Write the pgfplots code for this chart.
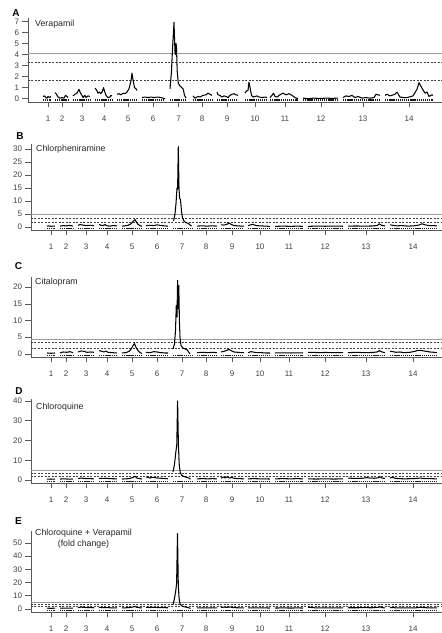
\documentclass[border=0pt]{standalone}
\usepackage{fontspec}
\setmainfont{Liberation Sans}
\usepackage{pgfplots}
\pgfplotsset{compat=1.18}
\begin{document}
\begin{tikzpicture}[x=1pt,y=1pt]
\path[use as bounding box] (0,0) rectangle (442,633);
\pgfplotsset{
  qtl/.style={
    scale only axis, clip=false, unbounded coords=jump,
    axis x line*=bottom, axis y line*=left,
    axis line style={-, draw=black!65, line width=0.5pt},
    every outer x axis line/.append style={-},
    every outer y axis line/.append style={-},
    tick style={draw=black!65, line width=0.5pt},
    tick align=outside, major tick length=5.5pt,
    tick label style={font=\fontsize{8}{9}\selectfont, text=black!75},
    /pgf/number format/assume math mode=true,
    xticklabel style={yshift=-4.5pt},
    xmin=31, xmax=442, width=411pt,
    xtick={51,66,86,107,132,157,182,206,232,260,289,325,366,413},
    xticklabels={1,2,3,4,5,6,7,8,9,10,11,12,13,14},
    anchor=south west,
  },
  curve/.style={black, line width=1.05pt, line join=round},
  mk/.style={black!90, line width=1.7pt, dash pattern=on 1.3pt off 0.8pt},
  thrA/.style={black!40, line width=0.6pt},
  thrB/.style={black!75, line width=0.5pt, dash pattern=on 2pt off 1.5pt},
}

% ---------------- A: Verapamil
\begin{axis}[qtl, at={(28pt,531pt)}, height=84pt, width=414pt, xmin=28, xmax=442,
  ymin=-0.3, ymax=7.3, ytick={0,1,2,3,4,5,6,7},
  xtick={48,62,82,104,128,153,178.5,202,227,255,285,321,363,409}]
  \addplot[thrA] coordinates {(28,4.1) (442,4.1)};
  \addplot[thrB] coordinates {(28,3.3) (442,3.3)};
  \addplot[thrB] coordinates {(28,1.65) (442,1.65)};
  \addplot[mk] coordinates {(43,-0.14)(51,-0.14)(51,nan) (55,-0.14)(68,-0.14)(68,nan)
    (73,-0.14)(90,-0.14)(90,nan) (95,-0.14)(112,-0.14)(112,nan) (117,-0.14)(137,-0.14)(137,nan)
    (142,-0.14)(165,-0.14)(165,nan) (170,-0.14)(186,-0.14)(186,nan) (193,-0.14)(212,-0.14)(212,nan)
    (217,-0.14)(238,-0.14)(238,nan) (245,-0.14)(267,-0.14)(267,nan) (270,-0.14)(298,-0.14)(298,nan)
    (303,-0.14)(338,-0.14)(338,nan) (343,-0.14)(380,-0.14)(380,nan) (385,-0.14)(433,-0.14)};
  \addplot[curve] coordinates {
    (43,0.2)(44.5,0.25)(46,0.1)(47,0.05)(48,0.2)(49.5,0.1)(51,0.2) (51,nan)
    (55,0.55)(56.5,0.4)(58,0.15)(60,0.05)(62,0.1)(64,0.05)(65.5,0.3)(67,0.2)(68,0.1) (68,nan)
    (73,0.25)(75,0.4)(77,0.5)(79,0.85)(80.5,0.5)(82,0.3)(83,0.1)(85,0.3)(86,0.1)(88,0.25)(90,0.2) (90,nan)
    (95,0.95)(96.5,0.8)(98,0.5)(99.5,0.6)(101,0.45)(102.5,0.7)(103.5,1.0)(105,0.55)(106,0.3)(108,0.1)(110,0.15)(111,0.3)(112,0.25) (112,nan)
    (117,0.4)(119,0.45)(121,0.35)(123,0.5)(125,0.45)(127,0.6)(129,0.9)(131,1.6)(132,2.3)(133,1.7)(134.5,1.0)(136,0.9)(137,0.75) (137,nan)
    (142,0.1)(145,0.15)(148,0.1)(151,0.15)(154,0.1)(157,0.15)(160,0.12)(163,0.05)(165,0.0) (165,nan)
    (170,0.9)(171.5,2.5)(172.5,4.5)(174,6.9)(175,4.2)(175.5,4.0)(176,5.0)(176.5,4.6)(177.2,2.5)(178.3,1.4)(180,1.15)(181.7,1.0)(183,0.9)(183.5,0.75)(184.5,0.3)(186,0.05) (186,nan)
    (193,0.25)(195,0.05)(198,0.2)(200,0.15)(203,0.3)(206,0.35)(208,0.5)(210,0.4)(212,0.3) (212,nan)
    (217,0.6)(218,0.35)(220,0.3)(222,0.15)(224,0.25)(226,0.2)(228,0.1)(230,0.3)(232,0.4)(234,0.45)(236,0.35)(238,0.3) (238,nan)
    (245,0.5)(246.5,0.7)(248,0.75)(249,1.5)(250.5,0.8)(251.5,0.3)(253,0.15)(255,0.2)(257,0.25)(259,0.15)(262,0.1)(265,0.15)(267,0.1) (267,nan)
    (270,0.1)(272,0.3)(273.5,0.5)(275,0.2)(277,0.15)(280,0.35)(283,0.5)(286,0.35)(289,0.45)(292,0.3)(295,0.1)(298,0.0) (298,nan)
    (303,0.05)(308,0.0)(314,0.05)(320,0.02)(326,0.05)(332,0.03)(338,0.05) (338,nan)
    (343,0.1)(346,0.25)(349,0.2)(352,0.3)(355,0.1)(358,0.2)(362,0.05)(366,0.1)(370,0.05)(374,0.1)(376,0.4)(378,0.35)(380,0.3) (380,nan)
    (385,0.3)(387,0.4)(390,0.25)(395,0.4)(397,0.6)(400,0.15)(404,0.1)(407,0.1)(413,0.25)(417,0.85)(419,1.45)(422,0.95)(425,0.5)(427,0.6)(429,0.2)(432,0.35)(433,0.3)};
\end{axis}

% ---------------- B: Chlorpheniramine
\begin{axis}[qtl, at={(31pt,403pt)}, height=86pt,
  ymin=-1.2, ymax=32, ytick={0,5,10,15,20,25,30}]
  \addplot[thrA] coordinates {(31,4.7) (442,4.7)};
  \addplot[thrB] coordinates {(31,3.3) (442,3.3)};
  \addplot[thrB] coordinates {(31,1.8) (442,1.8)};
  \addplot[mk] coordinates {(47,-0.6)(55,-0.6)(55,nan) (60,-0.6)(73,-0.6)(73,nan)
    (78,-0.6)(94,-0.6)(94,nan) (99,-0.6)(117,-0.6)(117,nan) (122,-0.6)(142,-0.6)(142,nan)
    (146,-0.6)(168,-0.6)(168,nan) (173,-0.6)(192,-0.6)(192,nan) (197,-0.6)(217,-0.6)(217,nan)
    (221,-0.6)(244,-0.6)(244,nan) (248,-0.6)(270,-0.6)(270,nan) (275,-0.6)(303,-0.6)(303,nan)
    (308,-0.6)(343,-0.6)(343,nan) (348,-0.6)(385,-0.6)(385,nan) (390,-0.6)(437,-0.6)};
  \addplot[curve] coordinates {
    (47,0.3)(49,0.4)(51,0.2)(53,0.3)(55,0.3) (55,nan)
    (60,0.3)(63,0.5)(66,0.4)(69,0.6)(71,0.5)(73,0.3) (73,nan)
    (78,0.6)(80,0.9)(83,0.7)(86,0.5)(90,0.6)(94,0.5) (94,nan)
    (99,1.0)(101,0.6)(103,0.5)(105,0.9)(107,0.4)(110,0.3)(113,0.5)(117,0.4) (117,nan)
    (122,0.3)(125,0.4)(128,0.6)(131,1.2)(133,2.0)(135,2.8)(136.5,1.8)(138,1.0)(140,0.5)(142,0.2) (142,nan)
    (146,0.5)(150,0.6)(154,0.5)(157,0.8)(160,0.6)(164,0.4)(168,0.3) (168,nan)
    (173.5,2.3)(175,5)(176,9)(177,15)(177.6,14.5)(178.3,31)(179,15)(179.6,11)(180.5,10.5)(181.5,6)(182.5,3.5)(184,2.2)(186,1.6)(188,1.4)(190,0.8)(191.5,0.3) (191.5,nan)
    (197,0.3)(202,0.4)(207,0.3)(212,0.4)(217,0.3) (217,nan)
    (221,0.8)(224,0.7)(227,1.0)(229,1.5)(231,1.0)(234,0.5)(238,0.4)(241,0.3)(244,0.3) (244,nan)
    (248,0.5)(251,0.8)(253,1.0)(256,0.5)(260,0.4)(265,0.3)(270,0.2) (270,nan)
    (275,0.2)(283,0.3)(291,0.2)(297,0.3)(303,0.2) (303,nan)
    (308,0.2)(316,0.3)(325,0.25)(334,0.3)(343,0.25) (343,nan)
    (348,0.3)(356,0.35)(364,0.3)(372,0.35)(377,0.5)(379.5,1.2)(381.5,0.6)(385,0.4) (385,nan)
    (390,0.8)(393,0.6)(397,0.4)(402,0.5)(408,0.3)(414,0.4)(419,0.7)(422,1.2)(425,0.8)(429,0.5)(433,0.5)(437,0.4)};
\end{axis}

% ---------------- C: Citalopram
\begin{axis}[qtl, at={(31pt,276pt)}, height=80pt,
  ymin=-0.9, ymax=23, ytick={0,5,10,15,20}]
  \addplot[thrA] coordinates {(31,4.4) (442,4.4)};
  \addplot[thrB] coordinates {(31,3.4) (442,3.4)};
  \addplot[thrB] coordinates {(31,1.8) (442,1.8)};
  \addplot[mk] coordinates {(47,-0.45)(55,-0.45)(55,nan) (60,-0.45)(73,-0.45)(73,nan)
    (78,-0.45)(94,-0.45)(94,nan) (99,-0.45)(117,-0.45)(117,nan) (122,-0.45)(142,-0.45)(142,nan)
    (146,-0.45)(168,-0.45)(168,nan) (173,-0.45)(192,-0.45)(192,nan) (197,-0.45)(217,-0.45)(217,nan)
    (221,-0.45)(244,-0.45)(244,nan) (248,-0.45)(270,-0.45)(270,nan) (275,-0.45)(303,-0.45)(303,nan)
    (308,-0.45)(343,-0.45)(343,nan) (348,-0.45)(385,-0.45)(385,nan) (390,-0.45)(437,-0.45)};
  \addplot[curve] coordinates {
    (47,0.3)(51,0.2)(55,0.3) (55,nan)
    (60,0.3)(63,0.6)(67,0.5)(70,0.7)(73,0.4) (73,nan)
    (78,0.6)(81,0.9)(84,0.8)(87,0.5)(91,0.6)(94,0.5) (94,nan)
    (99,1.0)(102,0.8)(104,0.6)(106,0.9)(108,0.5)(112,0.4)(117,0.3) (117,nan)
    (122,0.3)(126,0.4)(129,0.8)(131,1.4)(133,2.5)(134.5,3.1)(136,2.0)(138,1.0)(140,0.4)(142,0.2) (142,nan)
    (146,0.5)(150,0.4)(154,0.7)(157,0.6)(161,0.4)(165,0.3)(168,0.3) (168,nan)
    (173,1.5)(174.5,3)(175.5,7)(176.3,14.5)(177,11)(177.6,22)(178.3,13.5)(178.8,20.5)(179.4,10)(180,5)(181,2.5)(183,1.8)(185,1.5)(187,1.3)(188.5,0.6)(190,0.1) (190,nan)
    (197,0.4)(203,0.5)(208,0.4)(212,0.5)(217,0.4) (217,nan)
    (221,0.6)(224,0.8)(227,1.1)(229,1.4)(231,1.0)(234,0.6)(238,0.5)(241,0.4)(244,0.4) (244,nan)
    (248,0.4)(251,0.7)(253,0.6)(256,0.4)(261,0.4)(266,0.3)(270,0.3) (270,nan)
    (275,0.3)(283,0.35)(291,0.3)(297,0.35)(303,0.3) (303,nan)
    (308,0.5)(312,0.5)(318,0.4)(325,0.45)(334,0.4)(343,0.4) (343,nan)
    (348,0.4)(356,0.5)(364,0.4)(372,0.45)(377,0.6)(379.5,1.0)(382,0.6)(385,0.4) (385,nan)
    (390,0.8)(393,0.7)(396,0.5)(400,0.6)(404,0.4)(410,0.5)(415,0.8)(418,1.1)(422,1.0)(426,0.8)(430,0.6)(434,0.5)(437,0.4)};
\end{axis}

% ---------------- D: Chloroquine
\begin{axis}[qtl, at={(31pt,150pt)}, height=84pt,
  ymin=-1.5, ymax=41, ytick={0,10,20,30,40}]
  \addplot[thrA] coordinates {(31,4.7) (442,4.7)};
  \addplot[thrB] coordinates {(31,3.4) (442,3.4)};
  \addplot[thrB] coordinates {(31,2.0) (442,2.0)};
  \addplot[mk] coordinates {(47,-0.75)(55,-0.75)(55,nan) (60,-0.75)(73,-0.75)(73,nan)
    (78,-0.75)(94,-0.75)(94,nan) (99,-0.75)(117,-0.75)(117,nan) (122,-0.75)(142,-0.75)(142,nan)
    (146,-0.75)(168,-0.75)(168,nan) (173,-0.75)(192,-0.75)(192,nan) (197,-0.75)(217,-0.75)(217,nan)
    (221,-0.75)(244,-0.75)(244,nan) (248,-0.75)(270,-0.75)(270,nan) (275,-0.75)(303,-0.75)(303,nan)
    (308,-0.75)(343,-0.75)(343,nan) (348,-0.75)(385,-0.75)(385,nan) (390,-0.75)(437,-0.75)};
  \addplot[curve] coordinates {
    (47,0.5)(51,0.4)(55,0.5) (55,nan)
    (60,0.5)(64,0.6)(68,0.5)(73,0.5) (73,nan)
    (78,0.7)(81,1.0)(85,0.8)(90,0.7)(94,0.6) (94,nan)
    (99,0.9)(103,0.8)(106,0.9)(110,0.7)(117,0.6) (117,nan)
    (122,0.5)(126,0.6)(130,0.8)(133,1.3)(135,1.9)(137,1.0)(140,0.7)(142,0.5) (142,nan)
    (146,1.6)(148,1.3)(150,1.0)(152,1.4)(155,1.2)(158,1.0)(161,0.9)(165,0.8)(168,0.6) (168,nan)
    (173,4)(174.5,8)(175.8,14)(176.8,18)(177.6,40)(178.4,18)(179.2,8)(180.2,4)(181.5,2.5)(183,2)(185,1.6)(187,1.3)(189,1.0)(190.5,0.4) (190.5,nan)
    (197,0.6)(203,0.7)(208,0.6)(212,0.7)(217,0.6) (217,nan)
    (221,0.9)(223,1.5)(225,1.1)(227,1.6)(229,1.1)(232,1.2)(235,0.8)(240,0.7)(244,0.6) (244,nan)
    (248,0.6)(254,0.7)(260,0.6)(265,0.6)(270,0.5) (270,nan)
    (275,0.6)(283,0.7)(291,0.6)(297,0.7)(303,0.6) (303,nan)
    (308,0.6)(316,0.5)(325,0.6)(334,0.5)(343,0.6) (343,nan)
    (348,1.0)(351,0.9)(356,0.8)(362,0.9)(367,1.2)(370,1.0)(374,0.9)(378,1.1)(380,1.6)(382,1.0)(385,0.8) (385,nan)
    (390,1.0)(392,1.4)(395,0.9)(399,0.7)(405,0.6)(411,0.7)(416,0.8)(420,1.0)(424,0.8)(430,0.7)(437,0.6)};
\end{axis}

% ---------------- E: Chloroquine + Verapamil
\begin{axis}[qtl, at={(31pt,21pt)}, height=81pt,
  ymin=-2.3, ymax=59, ytick={0,10,20,30,40,50}]
  \addplot[thrA] coordinates {(31,4.8) (442,4.8)};
  \addplot[thrB] coordinates {(31,3.6) (442,3.6)};
  \addplot[thrB] coordinates {(31,2.2) (442,2.2)};
  \addplot[mk] coordinates {(47,-1.15)(55,-1.15)(55,nan) (60,-1.15)(73,-1.15)(73,nan)
    (78,-1.15)(94,-1.15)(94,nan) (99,-1.15)(117,-1.15)(117,nan) (122,-1.15)(142,-1.15)(142,nan)
    (146,-1.15)(168,-1.15)(168,nan) (173,-1.15)(192,-1.15)(192,nan) (197,-1.15)(217,-1.15)(217,nan)
    (221,-1.15)(244,-1.15)(244,nan) (248,-1.15)(270,-1.15)(270,nan) (275,-1.15)(303,-1.15)(303,nan)
    (308,-1.15)(343,-1.15)(343,nan) (348,-1.15)(385,-1.15)(385,nan) (390,-1.15)(437,-1.15)};
  \addplot[curve] coordinates {
    (47,0.6)(51,0.5)(55,0.6) (55,nan)
    (60,0.6)(64,0.7)(68,0.6)(73,0.6) (73,nan)
    (78,1.0)(81,1.4)(85,1.1)(90,1.0)(94,0.9) (94,nan)
    (99,1.2)(103,1.0)(106,1.1)(110,0.9)(117,0.8) (117,nan)
    (122,0.8)(126,0.9)(130,1.1)(133,1.5)(135,1.9)(137,1.2)(140,0.9)(142,0.8) (142,nan)
    (146,1.2)(150,1.1)(154,1.2)(158,1.0)(163,1.0)(168,0.9) (168,nan)
    (173,3)(174.5,8)(175.6,13)(176.6,19)(177.5,57)(178.3,18)(179.1,8)(180,4)(181.5,2.5)(183.5,1.8)(186,1.4)(188.5,1.0)(190.5,0.4) (190.5,nan)
    (197,0.8)(203,0.9)(208,0.8)(212,0.9)(217,0.8) (217,nan)
    (221,1.1)(224,1.4)(227,1.2)(230,1.5)(233,1.0)(238,0.9)(244,0.8) (244,nan)
    (248,0.8)(254,0.9)(260,0.8)(265,0.8)(270,0.7) (270,nan)
    (275,0.7)(283,0.8)(291,0.7)(297,0.8)(303,0.7) (303,nan)
    (308,1.2)(312,1.1)(316,0.8)(325,0.9)(334,0.8)(343,0.8) (343,nan)
    (348,0.9)(356,0.9)(364,1.0)(372,0.9)(378,1.2)(380,1.6)(382,1.0)(385,0.8) (385,nan)
    (390,1.1)(393,1.0)(397,0.8)(403,0.9)(410,0.8)(416,0.9)(420,1.2)(424,1.0)(430,0.8)(437,0.8)};
\end{axis}

% panel letters and titles
\begin{scope}[every node/.style={inner sep=0pt}]
  \node[font=\bfseries\fontsize{10}{12}\selectfont] at (16,620) {A};
  \node[font=\bfseries\fontsize{10}{12}\selectfont] at (20,497) {B};
  \node[font=\bfseries\fontsize{10}{12}\selectfont] at (18.5,367) {C};
  \node[font=\bfseries\fontsize{10}{12}\selectfont] at (19,242) {D};
  \node[font=\bfseries\fontsize{10}{12}\selectfont] at (18.5,112) {E};
  \begin{scope}[every node/.append style={anchor=west, font=\fontsize{8.8}{11}\selectfont, text=black!85}]
    \node at (35,609) {Verapamil};
    \node at (36,484) {Chlorpheniramine};
    \node at (35,351) {Citalopram};
    \node at (36,226) {Chloroquine};
    \node[align=center] at (35,94) {Chloroquine + Verapamil\\(fold change)};
  \end{scope}
\end{scope}
\end{tikzpicture}
\end{document}
